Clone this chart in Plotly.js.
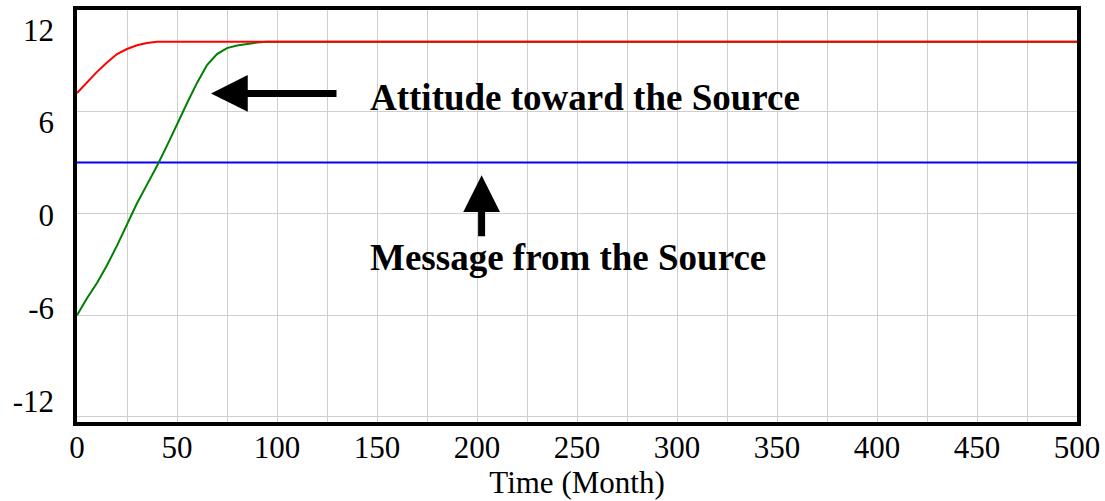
<!DOCTYPE html>
<html>
<head>
<meta charset="utf-8">
<script src="https://cdn.plot.ly/plotly-3.0.1.min.js"></script>
<style>html,body{margin:0;padding:0;background:#fff;}#chart{width:1105px;height:501px;}</style>
</head>
<body>
<div id="chart"></div>
<script>
// Time axis (Month)
const timeMessage = [0, 500];
const messageFromSource = [3, 3];

const timeGreen = [0, 5, 10, 15, 20, 25, 30, 35, 40, 45, 50, 55, 60, 65, 70, 75, 80, 85, 90, 95, 500];
const greenSeries = [-6, -5.0, -4.1, -3.05, -1.9, -0.65, 0.6, 1.7, 2.8, 4.0, 5.3, 6.5, 7.7, 8.75, 9.4, 9.75, 9.9, 10.0, 10.08, 10.12, 10.12];

const timeAttitude = [0, 5, 10, 15, 20, 25, 30, 35, 40, 500];
const attitudeTowardSource = [7.1, 7.75, 8.35, 8.9, 9.4, 9.7, 9.92, 10.05, 10.12, 10.12];

const yTickVals = [-12, -6, 0, 6, 12];
const yTickText = ['-12', '-6', '0', '6', '12'];
const xTickVals = [0, 50, 100, 150, 200, 250, 300, 350, 400, 450, 500];

const labelAttitude = 'Attitude toward the Source';
const labelMessage = 'Message from the Source';
const xTitle = 'Time (Month)';

const FONT = '"Liberation Serif", "Times New Roman", serif';

const traces = [
  {x: timeMessage, y: messageFromSource, mode: 'lines', line: {color: '#0000ff', width: 2}, showlegend: false, hoverinfo: 'skip'},
  {x: timeGreen, y: greenSeries, mode: 'lines', line: {color: '#008000', width: 2}, showlegend: false, hoverinfo: 'skip'},
  {x: timeAttitude, y: attitudeTowardSource, mode: 'lines', line: {color: '#ff0000', width: 2}, showlegend: false, hoverinfo: 'skip'},
  {x: [], y: [], yaxis: 'y2', showlegend: false, hoverinfo: 'skip'}
];

const layout = {
  width: 1105, height: 501,
  margin: {l: 77, r: 28, t: 10, b: 79},
  paper_bgcolor: '#ffffff', plot_bgcolor: '#ffffff',
  showlegend: false,
  font: {family: FONT, color: '#000000', size: 31},
  xaxis: {
    range: [0, 500], tickvals: xTickVals, showgrid: true, gridcolor: '#cfcfcf', gridwidth: 1,
    minor: {dtick: 25, tick0: 0, showgrid: true, gridcolor: '#cfcfcf', gridwidth: 1},
    showline: true, linecolor: '#000000', linewidth: 4, mirror: true, zeroline: false, ticks: '',
    tickfont: {family: FONT, size: 31, color: '#000'}, ticklabelstandoff: -5,
    title: {text: xTitle, font: {family: FONT, size: 31, color: '#000'}, standoff: 7}
  },
  yaxis: {
    range: [-12.3, 12], tickvals: [-12, -6, 0, 6, 12], showgrid: true, gridcolor: '#cfcfcf', gridwidth: 1,
    showticklabels: false, showline: true, linecolor: '#000000', linewidth: 4, mirror: true, zeroline: false, ticks: ''
  },
  yaxis2: {
    overlaying: 'y', side: 'left', range: [-13.34, 13.27], tickvals: yTickVals, ticktext: yTickText,
    showgrid: false, zeroline: false, showline: false, ticks: '',
    tickfont: {family: FONT, size: 31, color: '#000'}, ticklabelstandoff: 22
  },
  annotations: [
    {x: 67, y: 7.08, ax: 130.5, ay: 7.08, xref: 'x', yref: 'y', axref: 'x', ayref: 'y', text: '', showarrow: true,
     arrowhead: 2, arrowwidth: 7, arrowsize: 1.05, arrowcolor: '#000000', standoff: 0},
    {x: 202.3, y: 2.26, ax: 202.3, ay: -1.44, xref: 'x', yref: 'y', axref: 'x', ayref: 'y', text: '', showarrow: true,
     arrowhead: 2, arrowwidth: 7, arrowsize: 1.05, arrowcolor: '#000000', standoff: 0},
    {x: 145.5, y: 6.86, xref: 'x', yref: 'y', xanchor: 'left', yanchor: 'middle', showarrow: false,
     text: '<b>' + labelAttitude + '</b>', font: {family: FONT, size: 37, color: '#000'}},
    {x: 145.5, y: -2.58, xref: 'x', yref: 'y', xanchor: 'left', yanchor: 'middle', showarrow: false,
     text: '<b>' + labelMessage + '</b>', font: {family: FONT, size: 37, color: '#000'}}
  ]
};

Plotly.newPlot('chart', traces, layout, {displayModeBar: false, staticPlot: true});
</script>
</body>
</html>
